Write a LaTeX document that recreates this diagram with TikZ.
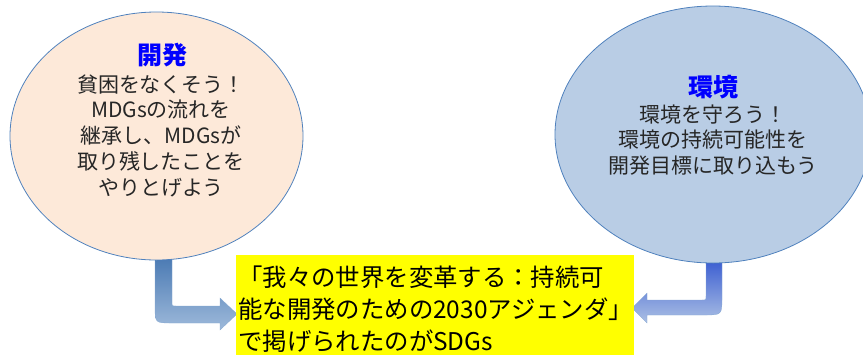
\documentclass[tikz,border=0pt]{standalone}
\usepackage{fontspec}
\setmainfont{Noto Sans CJK JP}
\usetikzlibrary{shapes.geometric}
\definecolor{peach}{HTML}{FDE9D9}
\definecolor{skyfill}{HTML}{B9CDE5}
\definecolor{edgeblue}{HTML}{4F81BD}
\definecolor{titleblue}{HTML}{0000FF}
\definecolor{boxyellow}{HTML}{FFFF00}
\begin{document}
\begin{tikzpicture}[x=1pt,y=-1pt,
  bubble/.style={ellipse, draw=edgeblue, line width=0.8pt, inner sep=0pt},
  bodytext/.style={align=center, font=\fontsize{21}{25.8}\selectfont, text=black!85},
  titletext/.style={font=\fontsize{25}{26}\selectfont\bfseries, text=titleblue},
  sdgbox/.style={fill=boxyellow, anchor=north west, minimum width=398pt, minimum height=100pt, inner sep=0pt},
  sdgtext/.style={anchor=north west, align=left, inner sep=0pt, font=\fontsize{24.4}{31.8}\selectfont}
]
\useasboundingbox (0,0) rectangle (863,354);
% arrows (behind ellipses)
\shade[top color=edgeblue!95!black, bottom color=edgeblue!55, draw=edgeblue!70, line width=0.3pt]
  (155,258) -- (155,306) .. controls (155,323) .. (172,323) -- (220,323) -- (220,330)
  -- (237,314) -- (220,298) -- (220,306) -- (176,306) .. controls (172,306) .. (172,302)
  -- (172,258) -- cycle;
\shade[top color=blue!30!edgeblue, bottom color=blue!10!edgeblue!45, draw=edgeblue!70, line width=0.3pt]
  (722,258) -- (722,297) .. controls (722,315) .. (704,315) -- (647,315) -- (647,323)
  -- (632,308) -- (647,293) -- (647,300) -- (702,300) .. controls (706,300) .. (706,296)
  -- (706,258) -- cycle;
% ellipses
\node[bubble, fill=peach, minimum width=293pt, minimum height=248pt] (dev) at (156.5,136) {};
\node[bubble, fill=skyfill, minimum width=316pt, minimum height=257pt] (env) at (713,134.5) {};
% texts
\node[titletext] (devtitle) at (162,55) {開発};
\node[bodytext, anchor=north] (devbody) at (161,71) {貧困をなくそう！\\MDGsの流れを\\継承し、MDGsが\\取り残したことを\\やりとげよう};
\node[titletext] (envtitle) at (713,87) {環境};
\node[bodytext, anchor=north] (envbody) at (713,101) {環境を守ろう！\\環境の持続可能性を\\開発目標に取り込もう};
% yellow box
\node[sdgbox] (sdg) at (236,255) {};
\node[sdgtext] (sdgt) at (238,266) {「我々の世界を変革する：持続可\\能な開発のための2030アジェンダ」\\で掲げられたのがSDGs};
\end{tikzpicture}
\end{document}
